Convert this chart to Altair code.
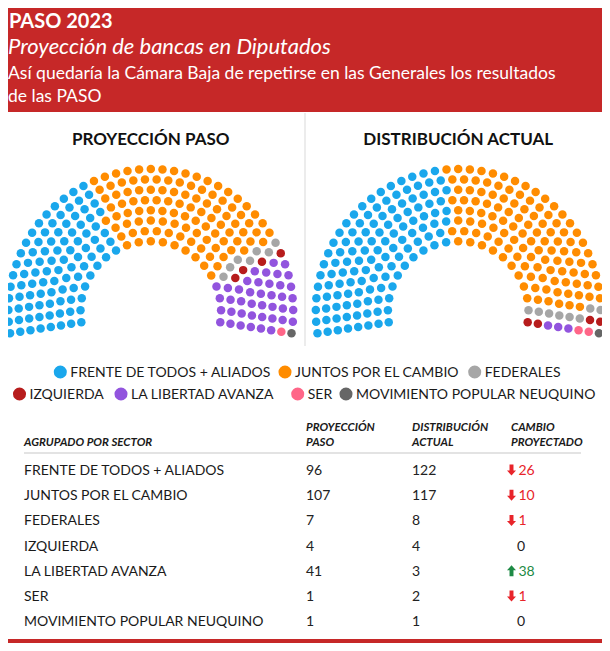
import altair as alt
import numpy as np
import pandas as pd

# ---------------- data ----------------
parties = ["FRENTE DE TODOS + ALIADOS", "JUNTOS POR EL CAMBIO", "FEDERALES",
           "IZQUIERDA", "LA LIBERTAD AVANZA", "SER", "MOVIMIENTO POPULAR NEUQUINO"]
colors = ["#1aa7ec", "#ff8c00", "#a6a6a6", "#b71c1c", "#9254de", "#ff6688", "#666666"]
proy_paso = [96, 107, 7, 4, 41, 1, 1]
dist_actual = [122, 117, 8, 4, 3, 2, 1]
panels = ["PROYECCIÓN PASO", "DISTRIBUCIÓN ACTUAL"]

title = "PASO 2023"
subtitle = "Proyección de bancas en Diputados"
desc_lines = ["Así quedaría la Cámara Baja de repetirse en las Generales los resultados",
              "de las PASO"]
table_head_1 = ["", "PROYECCIÓN", "DISTRIBUCIÓN", "CAMBIO"]
table_head_2 = ["AGRUPADO POR SECTOR", "PASO", "ACTUAL", "PROYECTADO"]

# ---------------- layout (page pixels) ----------------
W, H = 594, 635
X0, Y0 = 8, 8
xs = alt.Scale(domain=[X0, X0 + W], nice=False, zero=False)
ys = alt.Scale(domain=[Y0, Y0 + H], nice=False, zero=False, reverse=True)
FONT = "Lato"
RED = "#c62828"

N_ROWS = 8
R_IN, R_OUT = 70.3, 142.4
DELTA = np.deg2rad(8.8)
centers = [(150.8, 311.5), (458.2, 311.5)]
panel_title_y = 145


def seat_positions(total):
    radii = np.linspace(R_IN, R_OUT, N_ROWS)
    raw = total * radii / radii.sum()
    counts = np.floor(raw).astype(int)
    rem = total - counts.sum()
    order = np.argsort(-(raw - counts))
    counts[order[:rem]] += 1
    angs, rads = [], []
    for r, n in zip(radii, counts):
        for k in range(n):
            angs.append(np.pi + DELTA - (np.pi + 2 * DELTA) * k / (n - 1))
            rads.append(r)
    angs = np.round(np.array(angs), 8)
    rads = np.array(rads)
    idx = np.lexsort((rads, -angs))
    return angs[idx], rads[idx]


seat_recs = []
for p_i, counts in enumerate([proy_paso, dist_actual]):
    cx, cy = centers[p_i]
    a, r = seat_positions(sum(counts))
    seq = np.repeat(np.arange(len(parties)), counts)
    for ang, rad, pi in zip(a, r, seq):
        seat_recs.append({"panel": panels[p_i], "party": parties[pi],
                          "x": cx + rad * np.cos(ang), "y": cy - rad * np.sin(ang)})
seats = pd.DataFrame(seat_recs)

color_scale = alt.Scale(domain=parties, range=colors)


def X(f="x"):
    return alt.X(f, type="quantitative", scale=xs, axis=None)


def Y(f="y"):
    return alt.Y(f, type="quantitative", scale=ys, axis=None)


def texts(df, **kw):
    kw.setdefault("baseline", "alphabetic")
    kw.setdefault("font", FONT)
    return alt.Chart(df).mark_text(**kw).encode(x=X(), y=Y(), text="t:N")


# red bands
bands = pd.DataFrame({"x": [0, 0], "x2": [610, 610], "y": [0, 639], "y2": [112, 651]})
band_layer = alt.Chart(bands).mark_rect(color=RED, clip=True).encode(
    x=X(), x2="x2", y=Y(), y2="y2")

# divider
div = pd.DataFrame({"x": [305], "y": [113], "y2": [346]})
div_layer = alt.Chart(div).mark_rule(color="#d9d9d9", strokeWidth=1).encode(x=X(), y=Y(), y2="y2")

# header texts
h1 = texts(pd.DataFrame({"x": [9], "y": [28], "t": [title]}), align="left",
           fontSize=20, fontWeight="bold", color="white")
h2 = texts(pd.DataFrame({"x": [8], "y": [54], "t": [subtitle]}), align="left",
           fontSize=22, fontStyle="italic", color="white")
h3 = texts(pd.DataFrame({"x": [8, 8], "y": [79, 102], "t": desc_lines}), align="left",
           fontSize=17.5, color="white")

# panel titles
pt = texts(pd.DataFrame({"x": [c[0] for c in centers], "y": [panel_title_y] * 2, "t": panels}),
           align="center", fontSize=17, fontWeight="bold", color="#111")

# seats
seat_layer = alt.Chart(seats).mark_circle(size=72, opacity=1).encode(
    x=X(), y=Y(), color=alt.Color("party:N", scale=color_scale, legend=None))

# legend
leg_cx = [60.3, 285, 474.7, 19.5, 121, 297.7, 346]
leg_cy = [372, 372, 372, 394, 394, 394, 394]
leg = pd.DataFrame({"party": parties, "x": leg_cx, "y": leg_cy,
                    "tx": [v + 10 for v in leg_cx], "ty": [v + 5 for v in leg_cy], "t": parties})
leg_dots = alt.Chart(leg).mark_circle(size=170, opacity=1).encode(
    x=X(), y=Y(), color=alt.Color("party:N", scale=color_scale, legend=None))
leg_text = alt.Chart(leg).mark_text(align="left", baseline="alphabetic", font=FONT,
                                    fontSize=14, color="#1a1a1a").encode(
    x=X("tx"), y=Y("ty"), text="t:N")

# table
col_x = [24, 306, 412, 511]
th = pd.DataFrame({"x": col_x * 2, "y": [431] * 4 + [446] * 4, "t": table_head_1 + table_head_2})
th = th[th.t != ""]
th_layer = texts(th, align="left", fontSize=11.5, fontWeight="bold", fontStyle="italic", color="#1a1a1a")
hline = pd.DataFrame({"x": [24], "x2": [581], "y": [453]})
hline_layer = alt.Chart(hline).mark_rule(color="#e3e3e3", strokeWidth=2).encode(x=X(), x2="x2", y=Y())

row_y = [475 + 25.2 * i for i in range(len(parties))]
change = [p - a for p, a in zip(proy_paso, dist_actual)]
tbl = pd.DataFrame({"label": parties, "proy": proy_paso, "act": dist_actual, "chg": change, "y": row_y})
tbl["abs"] = tbl.chg.abs().astype(str)
tbl["sign"] = np.where(tbl.chg < 0, "neg", np.where(tbl.chg > 0, "pos", "zero"))
tbl["ay"] = tbl.y - 5

base_tbl = alt.Chart(tbl)
lab = base_tbl.mark_text(align="left", baseline="alphabetic", font=FONT, fontSize=14, color="#1a1a1a").encode(
    x=alt.datum(col_x[0], scale=xs, type="quantitative"), y=Y(), text="label:N")
v1 = base_tbl.mark_text(align="left", baseline="alphabetic", font=FONT, fontSize=14, color="#222").encode(
    x=alt.datum(col_x[1], scale=xs, type="quantitative"), y=Y(), text="proy:Q")
v2 = base_tbl.mark_text(align="left", baseline="alphabetic", font=FONT, fontSize=14, color="#222").encode(
    x=alt.datum(col_x[2], scale=xs, type="quantitative"), y=Y(), text="act:Q")
chg_color = alt.Color("sign:N", scale=alt.Scale(domain=["neg", "pos", "zero"],
                                                 range=["#e8242a", "#1e8a45", "#333333"]), legend=None)
v3 = base_tbl.transform_filter("datum.chg != 0").mark_text(
    align="left", baseline="alphabetic", font=FONT, fontSize=14).encode(
    x=alt.datum(518.5, scale=xs, type="quantitative"), y=Y(), text="abs:N", color=chg_color)
v0 = base_tbl.transform_filter("datum.chg == 0").mark_text(
    align="center", baseline="alphabetic", font=FONT, fontSize=14, color="#222").encode(
    x=alt.datum(521, scale=xs, type="quantitative"), y=Y(), text="abs:N")
DOWN = "M-0.36,-1 L0.36,-1 L0.36,0.1 L0.82,0.1 L0,1 L-0.82,0.1 L-0.36,0.1 Z"
UP = "M-0.36,1 L0.36,1 L0.36,-0.1 L0.82,-0.1 L0,-1 L-0.82,-0.1 L-0.36,-0.1 Z"
arr_dn = base_tbl.transform_filter("datum.chg < 0").mark_point(
    shape=DOWN, filled=True, size=121, opacity=1, color="#e8242a", strokeWidth=0).encode(
    x=alt.datum(511.5, scale=xs, type="quantitative"), y=Y("ay"))
arr_up = base_tbl.transform_filter("datum.chg > 0").mark_point(
    shape=UP, filled=True, size=121, opacity=1, color="#1e8a45", strokeWidth=0).encode(
    x=alt.datum(511.5, scale=xs, type="quantitative"), y=Y("ay"))

chart = alt.layer(
    band_layer, div_layer, h1, h2, h3, pt, seat_layer, leg_dots, leg_text,
    th_layer, hline_layer, lab, v1, v2, v3, v0, arr_dn, arr_up
).resolve_scale(color="independent").properties(
    width=W, height=H, autosize=alt.AutoSizeParams(type="none"), padding=0, background="white"
).configure_view(strokeWidth=0)

chart.save("out.html", embed_options={"renderer": "svg", "actions": False})
